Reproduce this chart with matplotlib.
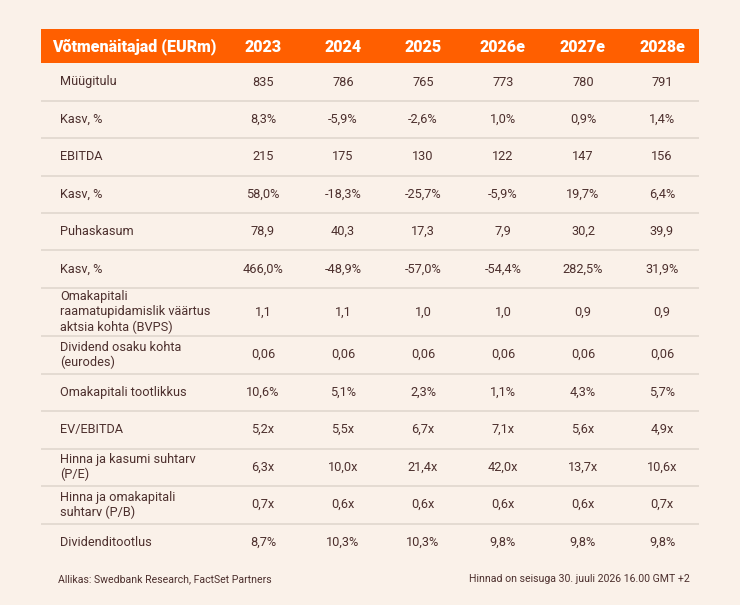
import matplotlib
matplotlib.use("Agg")
import matplotlib.pyplot as plt

## Päis
header_label = "Võtmenäitajad (EURm)"
years = ["2023", "2024", "2025", "2026e", "2027e", "2028e"]

## Read
labels = [
    "Müügitulu",
    "Kasv, %",
    "EBITDA",
    "Kasv, %",
    "Puhaskasum",
    "Kasv, %",
    "Omakapitali\nraamatupidamislik väärtus\naktsia kohta (BVPS)",
    "Dividend osaku kohta\n(eurodes)",
    "Omakapitali tootlikkus",
    "EV/EBITDA",
    "Hinna ja kasumi suhtarv\n(P/E)",
    "Hinna ja omakapitali\nsuhtarv (P/B)",
    "Dividenditootlus",
]
values = [
    ["835", "786", "765", "773", "780", "791"],
    ["8,3%", "-5,9%", "-2,6%", "1,0%", "0,9%", "1,4%"],
    ["215", "175", "130", "122", "147", "156"],
    ["58,0%", "-18,3%", "-25,7%", "-5,9%", "19,7%", "6,4%"],
    ["78,9", "40,3", "17,3", "7,9", "30,2", "39,9"],
    ["466,0%", "-48,9%", "-57,0%", "-54,4%", "282,5%", "31,9%"],
    ["1,1", "1,1", "1,0", "1,0", "0,9", "0,9"],
    ["0,06", "0,06", "0,06", "0,06", "0,06", "0,06"],
    ["10,6%", "5,1%", "2,3%", "1,1%", "4,3%", "5,7%"],
    ["5,2x", "5,5x", "6,7x", "7,1x", "5,6x", "4,9x"],
    ["6,3x", "10,0x", "21,4x", "42,0x", "13,7x", "10,6x"],
    ["0,7x", "0,6x", "0,6x", "0,6x", "0,6x", "0,7x"],
    ["8,7%", "10,3%", "10,3%", "9,8%", "9,8%", "9,8%"],
]
source = "Allikas: Swedbank Research, FactSet Partners"
note = "Hinnad on seisuga 30. juuli 2026 16.00 GMT +2"

bg = "#FAF1E9"
orange = "#FF5F00"
txt = "#4d302e"
sep = "#E4DBD2"

fig = plt.figure(figsize=(7.4, 6.05), dpi=100, facecolor=bg)
ax = fig.add_axes([0, 0, 1, 1])
ax.set_xlim(0, 740)
ax.set_ylim(605, 0)
ax.axis("off")
ax.set_facecolor(bg)

left, right = 41, 699
top, head_h = 29.3, 34
col_x = [263, 343, 423, 503, 583, 662]
row_h = [37.4] * 6 + [48.3] + [37.5] * 6

# päis
ax.add_patch(plt.Rectangle((left, top), right - left, head_h, color=orange, lw=0))
hy = top + head_h / 2 + 0.5
ax.text(52, hy, header_label, color="white", fontsize=11.5, fontweight="heavy",
        family="Roboto", va="center", ha="left")
for x, yr in zip(col_x, years):
    ax.text(x, hy, yr, color="white", fontsize=11.5, fontweight="heavy",
            family="Roboto", va="center", ha="center")

y = top + head_h
for i, (lab, vals) in enumerate(zip(labels, values)):
    h = row_h[i]
    cy = y + h / 2
    ax.text(60, cy, lab, color=txt, fontsize=9.2, family="Roboto",
            va="center", ha="left", linespacing=1.2)
    for x, v in zip(col_x, vals):
        ax.text(x, cy, v, color=txt, fontsize=9.2, family="Roboto",
                va="center", ha="center")
    y += h
    if i < len(labels) - 1:
        ax.plot([left, right], [y, y], color=sep, lw=1.4, solid_capstyle="butt")

ax.text(58, 579, source, color=txt, fontsize=7.6, family="Roboto",
        va="center", ha="left", fontstretch="condensed")
ax.text(690, 579, note, color=txt, fontsize=7.6, family="Roboto",
        va="center", ha="right", fontstretch="condensed")

fig.savefig("out.png", dpi=100, facecolor=bg)
